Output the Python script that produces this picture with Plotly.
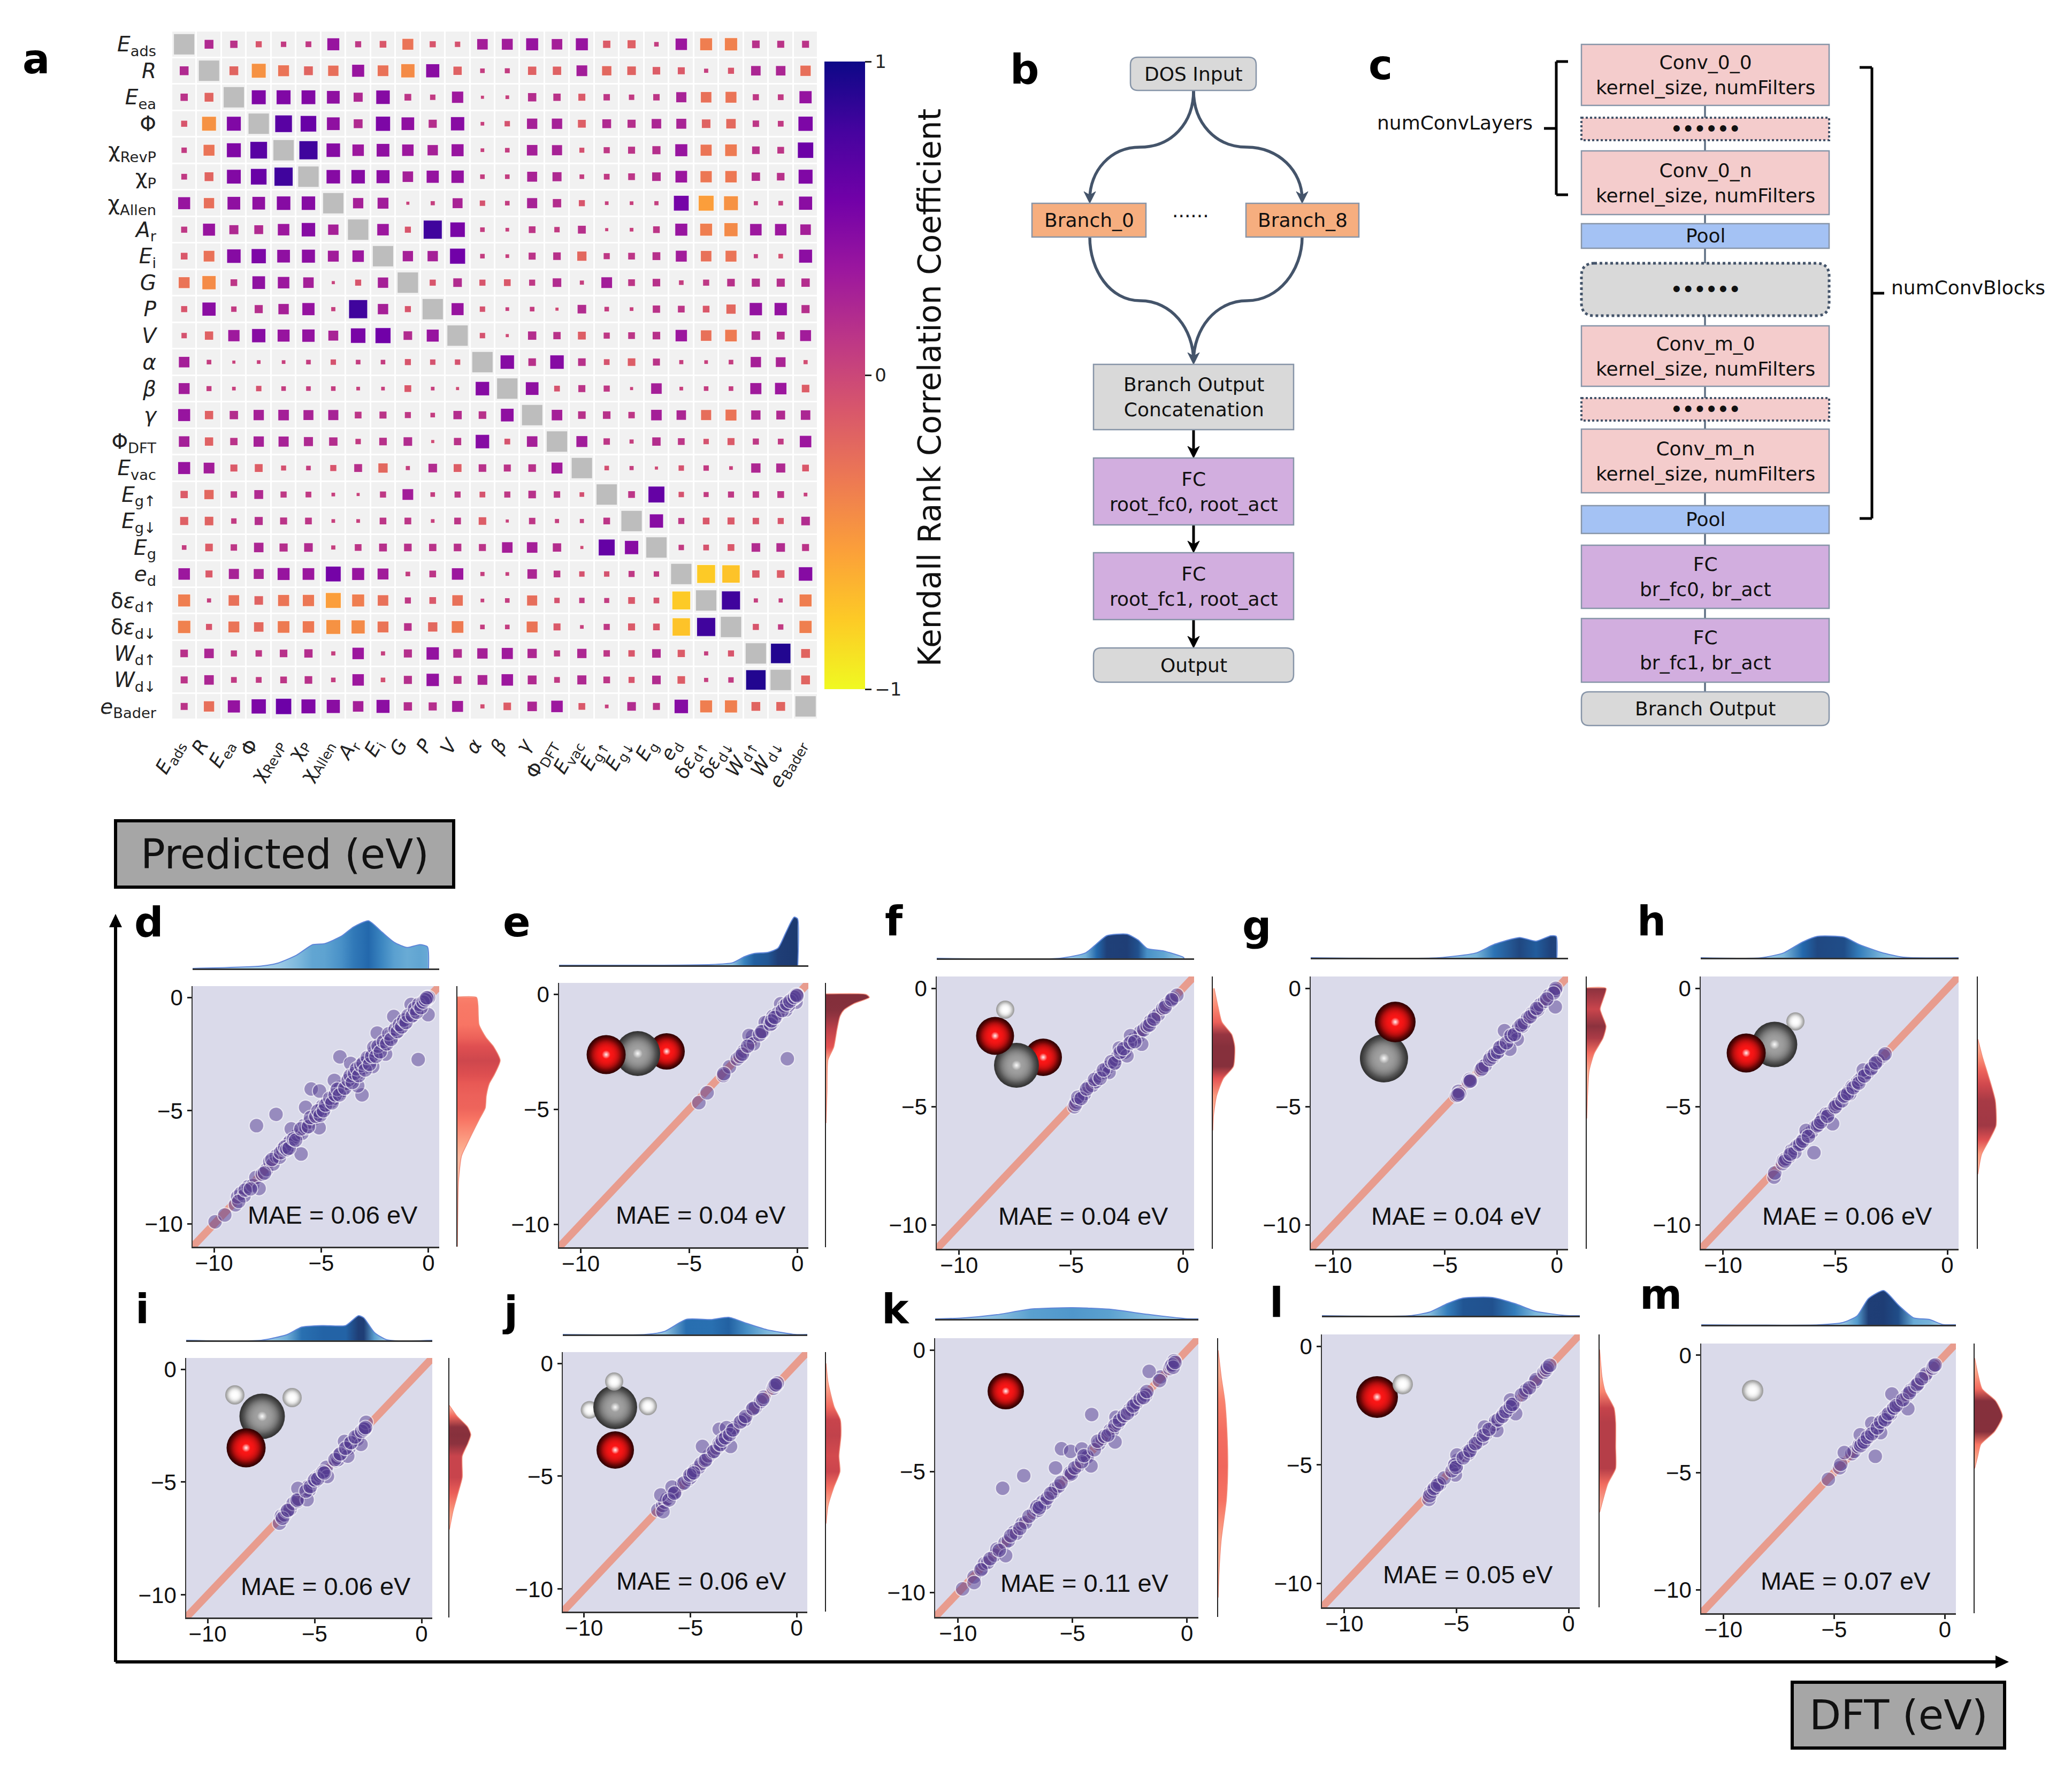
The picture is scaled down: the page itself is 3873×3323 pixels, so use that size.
import plotly.graph_objects as go

# ---------------- DATA ----------------
LABELS = ["<i>E</i><sub>ads</sub>", "<i>R</i>", "<i>E</i><sub>ea</sub>", "Φ", "χ<sub>RevP</sub>", "χ<sub>P</sub>",
          "χ<sub>Allen</sub>", "<i>A</i><sub>r</sub>", "<i>E</i><sub>i</sub>", "<i>G</i>", "<i>P</i>", "<i>V</i>",
          "<i>α</i>", "<i>β</i>", "<i>γ</i>", "Φ<sub>DFT</sub>", "<i>E</i><sub>vac</sub>", "<i>E</i><sub>g↑</sub>",
          "<i>E</i><sub>g↓</sub>", "<i>E</i><sub>g</sub>", "<i>e</i><sub>d</sub>", "δ<i>ε</i><sub>d↑</sub>",
          "δ<i>ε</i><sub>d↓</sub>", "<i>W</i><sub>d↑</sub>", "<i>W</i><sub>d↓</sub>", "<i>e</i><sub>Bader</sub>"]

# upper triangle of the Kendall matrix, row by row (without the diagonal)
K00 = [.2,.14,-.1,.08,.09,.36,.1,-.12,-.3,-.1,-.08,.28,.3,.36,.28,.36,-.14,-.17,.06,.33,-.36,-.38,.15,.13,.13]
K01 = [-.2,-.48,-.3,-.2,-.27,.36,-.29,-.44,.43,-.18,.06,.07,-.18,-.18,.29,-.22,-.19,-.15,-.13,.05,-.1,.23,.23,-.27]
K02 = [.48,.48,.47,.4,.21,.45,.12,.08,.32,.03,.04,.18,.14,-.13,.11,.08,.11,.26,-.28,-.3,.1,.09,.37]
K03 = [.68,.6,.4,.2,.5,.4,.17,.44,.04,-.08,.27,.27,-.16,.2,.17,.23,.25,-.19,-.23,.11,.09,.5]
K04 = [.8,.45,.33,.4,.33,.27,.36,.04,.06,.28,.26,-.07,.1,.13,.17,.36,-.31,-.34,.15,.12,.58]
K05 = [.45,.45,.42,.28,.37,.38,.06,.06,.25,.21,.06,.09,.12,.19,.34,-.32,-.33,.18,.15,.48]
K06 = [.27,.3,.03,.05,.25,-.08,.06,.26,.18,-.1,.04,.04,.05,.54,-.55,-.48,.05,.06,.43]
K07 = [.33,-.1,.8,.52,.06,.04,.12,.08,.16,.03,.04,.12,.36,-.36,-.43,.33,.33,.28]
K08 = [.27,.27,.56,.06,.04,.13,.15,-.22,.1,.12,.16,.3,-.28,-.3,.05,-.06,.42]
K09 = [-.1,.19,-.1,-.12,.1,.19,.05,.29,.12,.15,.06,.1,.15,.17,.17,.18]
K10 = [.36,-.08,.04,.06,-.03,.19,.06,.04,.14,.12,-.12,-.22,.38,.38,.17]
K11 = [-.08,-.03,.18,.14,-.16,.1,.12,.15,.33,-.28,-.34,.19,.16,.3]
K12 = [.45,.15,.45,.15,-.09,-.15,.13,.05,.04,.06,.27,.24,-.05]
K13 = [.4,-.09,.13,.1,.03,.28,.04,.06,.06,.31,.33,-.15]
K14 = [.28,.15,.15,.11,.28,.23,-.26,-.3,.22,.2,.23]
K15 = [.3,.11,.05,.18,.12,-.08,-.13,.1,.09,.33]
K16 = [-.06,.05,-.03,-.08,.08,.04,.22,.21,-.12]
K17 = [.12,.62,-.08,.07,.1,.11,.12,.04]
K18 = [.44,.1,-.12,-.13,-.11,-.1,.19]
K19 = [.08,-.09,-.12,.19,.19,.13]
K20 = [-.78,-.74,-.14,-.15,.45]
K21 = [.8,.05,.05,-.36]
K22 = [-.1,.08,-.37]
K23 = [.92,-.2]
K24 = [-.2]
UPPER = [K00,K01,K02,K03,K04,K05,K06,K07,K08,K09,K10,K11,K12,K13,K14,K15,K16,K17,K18,K19,K20,K21,K22,K23,K24]
CBAR_TICKS = [1, 0, -1]
CBAR_TEXT = ["1", "0", "−1"]

DIAG = [-11, 0.5]
TICKS = [-10, -5, 0]

d_points = [(-9.95,-9.9),(-9.5,-9.6),(-9.0,-9.15),(-8.9,-8.8),(-8.75,-8.65),(-8.6,-8.75),(-8.4,-8.35),(-8.2,-8.3),(-8.05,-7.95),
 (-7.75,-7.8),(-7.55,-7.6),(-7.4,-7.25),(-7.25,-7.35),(-7.1,-7.0),(-6.95,-7.05),(-6.8,-6.7),(-6.65,-6.75),(-6.55,-6.45),(-6.45,-6.35),
 (-6.35,-6.5),(-6.25,-6.15),(-6.1,-6.05),(-5.9,-6.0),(-5.8,-5.65),(-5.7,-5.75),(-5.55,-5.5),(-5.3,-5.35),(-5.2,-5.05),(-5.1,-5.15),
 (-5.0,-4.95),(-4.95,-4.8),(-4.85,-4.9),(-4.7,-4.55),(-4.55,-4.6),(-4.4,-4.45),(-4.3,-4.15),(-4.2,-4.25),(-4.1,-3.95),(-4.0,-4.1),
 (-3.85,-3.8),(-3.7,-3.55),(-3.6,-3.65),(-3.5,-3.45),(-3.4,-3.25),(-3.3,-3.35),(-3.2,-3.15),(-3.1,-2.95),(-3.0,-3.1),(-2.9,-2.85),
 (-2.8,-2.7),(-2.7,-2.8),(-2.6,-2.5),(-2.5,-2.35),(-2.4,-2.45),(-2.3,-2.25),(-2.2,-2.05),(-2.05,-2.1),(-1.9,-1.85),(-1.8,-1.7),
 (-1.7,-1.75),(-1.6,-1.5),(-1.5,-1.55),(-1.4,-1.3),(-1.3,-1.35),(-1.2,-1.1),(-1.1,-1.15),(-1.0,-.95),(-.9,-.85),(-.8,-.85),(-.7,-.65),
 (-.6,-.55),(-.5,-.55),(-.4,-.35),(-.3,-.25),(-.2,-.25),(-.1,-.1),(-.05,0),(-.03,-.05),(0,0),
 (-8.02,-5.66),(-7.11,-5.16),(-5.73,-4.85),(-5.47,-4.04),(-4.13,-2.62),(-.48,-2.74),(-5.94,-6.91),(-.02,-.76),(-3.1,-4.3),(-1.62,-.84),
 (-5.08,-4.13),(-3.63,-2.91),(-4.39,-3.66),(-2.39,-1.57),(-.81,-.31),(-6.4,-5.8),(-5.1,-5.75),(-7.9,-8.43),(-3.3,-3.9),(-2.6,-3.05),(-2.0,-2.5),
 (-8.85,-9.0),(-8.55,-8.5),(-8.3,-8.45),(-7.65,-7.75),(-7.3,-7.15),(-6.9,-6.85),(-6.7,-6.6),(-6.6,-6.7),(-6.5,-6.65),(-6.3,-6.25),(-6.2,-6.3),(-5.95,-5.8),
 (-5.6,-5.7),(-5.5,-5.3),(-5.25,-5.25),(-5.15,-5.0),(-5.05,-5.2),(-4.9,-5.0),(-4.8,-4.75),(-4.6,-4.45),(-4.5,-4.65),(-4.35,-4.3),(-4.25,-4.05),(-4.15,-4.3),
 (-3.9,-4.0),(-3.75,-3.65),(-3.65,-3.45),(-3.55,-3.75),(-3.45,-3.35),(-3.35,-3.15),(-3.25,-3.45),(-3.15,-3.0),(-3.05,-2.9),(-2.95,-3.2),(-2.85,-2.65),
 (-2.75,-2.95),(-2.65,-2.6),(-2.55,-2.2),(-2.45,-2.6),(-2.35,-2.15),(-2.25,-2.4),(-2.1,-1.95),(-1.95,-2.05),(-1.85,-1.6),(-1.75,-1.85),(-1.55,-1.4),
 (-1.45,-1.5),(-1.35,-1.2),(-1.25,-1.3),(-1.15,-1.0),(-1.05,-1.1),(-.95,-.8),(-.75,-.8),(-.65,-.5),(-.55,-.65),(-.45,-.3),(-.35,-.45),(-.25,-.2),(-.15,-.1),(-.08,-.02)]
d_top_x = [-11,-7.8,-7,-6.15,-5.4,-4.85,-4.05,-3.5,-2.8,-2.2,-1.6,-1,-.4,-.05,0.0]
d_top = [0,.01,.023,.056,.1,.104,.136,.174,.2,.155,.11,.088,.1,.091,0]
d_right_y = [0.02,0,-.34,-1.2,-1.76,-2.17,-2.78,-3.4,-3.8,-4.34,-4.88,-5.4,-6.5,-7,-8.1,-10,-11]
d_right = [0,.089,.096,.101,.133,.169,.2,.173,.149,.135,.13,.101,.043,.019,.005,.001,0]

e_points = [(-4.55,-4.71),(-4.17,-4.28),(-3.42,-3.53),(-3.14,-3.15),(-2.78,-2.81),(-2.48,-2.47),(-2.19,-2.11),(-2.08,-1.83),(-1.67,-1.7),
 (-1.37,-1.2),(-1.18,-1.26),(-1.01,-.99),(-.78,-.41),(-.54,-.68),(-.31,-.38),(-.02,-.03),(-.07,-.34),(-.47,-2.8),(-1.49,-1.22),(-2.24,-1.79),
 (-2.03,-2.15),(-.42,-.48),(-.19,-.2),(-1.13,-.95),(-.9,-.82),(-.6,-.5),(-.1,-.12),(-1.6,-1.62),(-2.65,-2.7),(-.25,-.22),
 (-3.4,-3.45),(-2.55,-2.6),(-2.3,-2.25),(-1.75,-1.75),(-1.65,-1.62),(-1.25,-1.3),(-1.2,-1.15),(-1.05,-1.0),(-.7,-.7),(-.5,-.42),(-.35,-.3),(-.15,-.13),(-.05,-.02),(-.03,-.06)]
e_top_x = [-11,-4,-3,-2.45,-2,-1.37,-.9,-.55,-.3,-.15,0.0,0.01]
e_top = [0,.012,.046,.16,.22,.24,.32,.6,.81,.9,.87,0]
e_right_y = [0.02,0,-.13,-.4,-.68,-.95,-1.5,-2.3,-2.85,-4.2,-5.6]
e_right = [0,.83,.9,.58,.37,.29,.23,.16,.04,.02,0]

f_points = [(-4.85,-5.0),(-4.75,-4.8),(-4.65,-4.7),(-4.5,-4.55),(-4.4,-4.45),(-4.2,-4.15),(-4.05,-4.1),(-3.9,-3.95),(-3.75,-3.7),(-3.6,-3.6),
 (-3.5,-3.55),(-3.4,-3.35),(-3.3,-3.3),(-3.1,-3.2),(-3.0,-3.0),(-2.9,-2.85),(-2.75,-2.75),(-2.6,-2.7),(-2.5,-2.45),(-2.45,-2.4),(-2.2,-2.15),
 (-2.0,-2.05),(-1.9,-1.85),(-1.75,-1.75),(-1.6,-1.6),(-1.45,-1.4),(-1.25,-1.2),(-1.1,-1.1),(-.9,-.85),(-.75,-.7),(-.55,-.55),(-.45,-.42),(-.27,-.29),
 (-2.34,-2.0),(-1.84,-2.36),(-2.84,-2.52),(-2.5,-2.85),(-3.3,-3.55),
 (-4.8,-4.9),(-4.7,-4.6),(-4.55,-4.65),(-4.3,-4.25),(-3.95,-3.85),(-3.7,-3.8),(-3.55,-3.45),(-3.2,-3.1),(-3.05,-3.15),(-2.8,-2.7),(-2.65,-2.55),(-2.35,-2.3),(-2.15,-2.25),(-1.5,-1.55),(-1.3,-1.3),(-.8,-.8),(-.5,-.48)]
f_top_x = [-11,-5.5,-4.35,-3.85,-3.4,-2.5,-2,-1.6,-.85,0,.06]
f_top = [0,0,.074,.2,.31,.33,.25,.135,.1,.017,0]
f_right_y = [0,-.8,-1.43,-1.95,-2.46,-3.3,-3.8,-4.53,-5.36,-6]
f_right = [.02,.08,.137,.285,.33,.31,.16,.057,.01,0]

g_points = [(-4.48,-4.53),(-4.4,-4.35),(-4.35,-4.45),(-3.95,-3.95),(-3.9,-3.85),(-3.85,-3.9),(-3.4,-3.45),(-3.3,-3.3),(-3.2,-3.25),(-2.95,-2.9),
 (-2.85,-2.9),(-2.75,-2.75),(-2.6,-2.65),(-2.5,-2.45),(-2.4,-2.4),(-2.15,-2.2),(-2.1,-2.05),(-2.0,-2.0),(-1.8,-1.8),(-1.7,-1.65),(-1.55,-1.6),
 (-1.45,-1.45),(-1.3,-1.25),(-1.1,-1.05),(-1.0,-1.0),(-.85,-.9),(-.75,-.7),(-.55,-.55),(-.35,-.3),(-.1,-.12),(-.07,-.08),(-.05,0),
 (-.07,-.78),(-2.34,-1.79),(-1.77,-2.15),(-2.1,-2.57),(-.15,-.2),
 (-4.42,-4.5),(-3.88,-3.92),(-3.35,-3.4),(-3.0,-3.0),(-2.8,-2.8),(-2.65,-2.7),(-2.55,-2.5),(-2.25,-2.3),(-2.05,-2.0),(-1.9,-1.95),(-1.6,-1.55),(-1.2,-1.2),(-.9,-.85),(-.45,-.45)]
g_top_x = [-11,-5.3,-3.6,-2.8,-1.67,-.93,-.27,-.03,0.0]
g_top = [0,0,.067,.183,.277,.227,.3,.293,0]
g_right_y = [0.02,0,-.47,-.88,-1.6,-2.1,-2.75,-3.5,-4.5,-5.5]
g_right = [0,.3,.254,.208,.3,.254,.115,.035,.012,0]

h_points = [(-7.73,-7.97),(-7.7,-7.8),(-7.35,-7.4),(-7.3,-7.25),(-7.2,-7.2),(-7.05,-7.1),(-6.95,-6.85),(-6.8,-6.75),(-6.7,-6.65),(-6.55,-6.55),
 (-6.4,-6.35),(-6.3,-6.2),(-6.15,-6.1),(-6.05,-6.05),(-5.9,-5.85),(-5.75,-5.75),(-5.6,-5.55),(-5.55,-5.45),(-5.4,-5.3),(-5.3,-5.3),(-5.05,-5.05),
 (-4.95,-4.9),(-4.85,-4.85),(-4.65,-4.6),(-4.55,-4.5),(-4.4,-4.35),(-4.35,-4.45),(-4.25,-4.15),(-4.1,-4.1),(-4.0,-3.95),(-3.9,-3.85),(-3.8,-3.75),
 (-3.65,-3.6),(-3.55,-3.55),(-3.35,-3.35),(-3.25,-3.2),(-3.1,-3.05),(-2.85,-2.85),(-2.78,-2.77),
 (-5.95,-6.94),(-5.12,-5.72),(-6.8,-6.92),(-6.3,-6.0),(-3.75,-3.45),
 (-7.25,-7.3),(-7.0,-7.0),(-6.6,-6.6),(-6.45,-6.45),(-6.2,-6.25),(-5.8,-5.8),(-5.65,-5.65),(-5.35,-5.4),(-5.0,-5.0),(-4.7,-4.75),(-4.6,-4.55),(-4.45,-4.45),(-4.2,-4.2),(-3.95,-4.0),(-3.7,-3.7),(-3.4,-3.4),(-3.2,-3.15)]
h_top_x = [-11,-8.3,-7.3,-6.45,-5.8,-4.6,-3.95,-2.95,-1.95,.5]
h_top = [0,0,.062,.2,.27,.26,.17,.068,.006,0]
h_right_y = [-2.15,-2.9,-3.5,-4.1,-4.75,-5.8,-6.4,-7,-7.85]
h_right = [0,.068,.135,.2,.26,.27,.17,.056,0]

i_points = [(-6.64,-6.82),(-6.55,-6.5),(-6.4,-6.45),(-6.3,-6.3),(-6.15,-6.2),(-6.0,-5.95),(-5.8,-5.85),(-5.75,-5.75),(-5.35,-5.3),(-5.3,-5.2),(-5.25,-5.35),
 (-5.05,-5.0),(-4.95,-4.95),(-4.9,-4.8),(-4.75,-4.7),(-4.65,-4.65),(-4.5,-4.5),(-4.45,-4.35),(-4.0,-4.05),(-3.95,-3.9),(-3.9,-4.0),(-3.85,-3.8),
 (-3.5,-3.55),(-3.45,-3.4),(-3.4,-3.5),(-3.35,-3.3),(-3.05,-3.05),(-3.0,-3.1),(-2.95,-2.9),(-2.7,-2.7),(-2.65,-2.6),(-2.64,-2.63),
 (-5.78,-5.28),(-5.35,-5.78),(-2.83,-3.33),(-2.59,-2.35),(-3.45,-3.85),(-3.6,-3.2),(-4.4,-4.75),
 (-6.5,-6.6),(-6.25,-6.25),(-5.82,-5.8),(-5.4,-5.4),(-5.2,-5.2),(-5.0,-4.9),(-4.85,-4.85),(-4.6,-4.55),(-4.55,-4.6),(-4.05,-4.0),(-3.8,-3.75),(-3.55,-3.5),(-3.3,-3.25),(-3.1,-3.0),(-2.8,-2.75),(-2.68,-2.65),(-2.62,-2.58)]
i_top_x = [-11,-7.5,-6.3,-5.6,-4.6,-3.55,-2.95,-2.7,-2.2,-1.6,.5]
i_top = [0,0,.08,.188,.21,.21,.35,.32,.11,.005,0]
i_right_y = [-1.6,-2.08,-2.56,-2.9,-3.3,-3.85,-4.8,-5.5,-6.3,-7.1]
i_right = [0,.125,.3,.35,.3,.21,.21,.14,.058,0]

j_points = [(-6.53,-6.5),(-6.3,-6.3),(-6.2,-6.15),(-6.1,-6.0),(-5.9,-5.85),(-5.85,-5.8),(-5.7,-5.7),(-5.4,-5.35),(-5.1,-5.15),(-5.05,-5.0),(-5.0,-5.05),
 (-4.95,-4.9),(-4.8,-4.75),(-4.6,-4.6),(-4.5,-4.45),(-4.25,-4.25),(-4.15,-4.1),(-3.95,-3.95),(-3.75,-3.75),(-3.65,-3.55),(-3.55,-3.6),(-3.4,-3.35),
 (-3.3,-3.2),(-3.2,-3.1),(-3.05,-3.0),(-2.95,-2.85),(-2.6,-2.55),(-2.5,-2.45),(-2.45,-2.5),(-2.1,-2.05),(-1.95,-1.95),(-1.7,-1.7),(-1.55,-1.5),
 (-1.1,-1.1),(-1.05,-1.0),(-.95,-.95),(-.91,-.87),
 (-6.39,-5.83),(-4.43,-3.68),(-3.64,-2.92),(-3.11,-3.68),(-6.29,-6.57),(-5.86,-5.48),(-3.3,-2.85),
 (-6.0,-6.05),(-5.75,-5.75),(-5.3,-5.3),(-5.02,-4.95),(-4.85,-4.85),(-4.3,-4.3),(-3.9,-3.9),(-3.6,-3.6),(-3.5,-3.4),(-3.35,-3.3),(-3.15,-3.15),(-3.0,-2.95),(-2.65,-2.6),(-2.4,-2.35),(-2.05,-2.0),(-1.6,-1.6),(-1.0,-.95)]
j_top_x = [-11,-7.1,-6.2,-5.2,-4,-3.2,-2.35,-1.4,-.07,.5]
j_top = [0,0,.04,.19,.188,.216,.14,.06,0,0]
j_right_y = [0,-.85,-1.93,-2.5,-3.2,-4.1,-4.8,-5.5,-6.3,-7.1]
j_right = [0,.03,.12,.21,.22,.19,.205,.114,.03,0]

k_points = [(-9.8,-9.84),(-9.3,-9.35),(-9.3,-9.58),(-8.95,-9.0),(-8.85,-8.8),(-8.7,-8.75),(-8.4,-8.45),(-8.3,-8.2),(-7.95,-7.95),(-7.8,-7.85),(-7.55,-7.5),
 (-7.45,-7.55),(-7.2,-7.15),(-7.05,-7.1),(-6.7,-6.7),(-6.6,-6.55),(-6.5,-6.6),(-6.4,-6.35),(-6.3,-6.25),(-6.2,-6.3),(-5.85,-5.85),(-5.75,-5.7),(-5.6,-5.6),
 (-5.15,-5.15),(-5.1,-5.05),(-5.05,-5.1),(-4.75,-4.75),(-4.45,-4.45),(-4.4,-4.35),(-4.35,-4.4),(-3.85,-3.85),(-3.7,-3.65),(-3.35,-3.3),(-3.25,-3.3),
 (-3.0,-3.0),(-2.9,-2.85),(-2.5,-2.45),(-2.4,-2.45),(-2.3,-2.25),(-2.2,-2.15),(-1.85,-1.8),(-1.8,-1.85),(-1.15,-1.1),(-.75,-.75),(-.7,-.65),(-.56,-.43),
 (-8.05,-5.69),(-7.13,-5.17),(-5.74,-4.85),(-5.48,-4.06),(-5.08,-4.17),(-4.59,-4.07),(-4.16,-2.65),(-1.65,-.87),(-3.14,-3.78),(-4.19,-4.77),(-3.1,-2.76),(-7.92,-8.47),
 (-9.0,-9.05),(-8.6,-8.6),(-8.2,-8.25),(-7.7,-7.65),(-7.3,-7.35),(-6.9,-6.85),(-6.55,-6.45),(-6.45,-6.5),(-6.1,-6.1),(-5.95,-5.9),(-5.5,-5.45),(-4.9,-4.85),(-4.6,-4.6),(-4.5,-4.35),
 (-4.05,-4.1),(-3.9,-3.75),(-3.6,-3.55),(-3.45,-3.5),(-3.15,-3.1),(-2.95,-2.9),(-2.75,-2.7),(-2.6,-2.6),(-2.35,-2.3),(-2.05,-2.0),(-1.9,-1.95),(-1.75,-1.7),(-1.2,-1.25),(-.65,-.6),(-.6,-.7),(-.52,-.5)]
k_top_x = [-11,-9.8,-8.3,-6.8,-5,-3.4,-1.7,-.07,.5]
k_top = [0,.01,.047,.11,.125,.108,.05,.003,0]
k_right_y = [0,-1.1,-2.1,-3.4,-4.8,-6.2,-7.8,-9.2,-10.2]
k_right = [0,.04,.087,.115,.125,.106,.04,.01,0]

l_points = [(-6.23,-6.45),(-6.15,-6.15),(-6.05,-6.1),(-5.95,-5.95),(-5.8,-5.75),(-5.75,-5.8),(-5.1,-5.1),(-5.05,-4.95),(-5.0,-5.05),(-4.95,-4.8),(-4.6,-4.6),
 (-4.5,-4.45),(-4.45,-4.5),(-4.25,-4.2),(-4.05,-4.05),(-3.95,-3.85),(-3.85,-3.9),(-3.7,-3.7),(-3.4,-3.4),(-3.3,-3.3),(-3.25,-3.15),(-3.0,-3.0),(-2.9,-2.85),
 (-2.75,-2.7),(-2.65,-2.65),(-2.55,-2.5),(-2.45,-2.4),(-1.95,-1.95),(-1.9,-1.85),(-1.5,-1.5),(-1.45,-1.4),(-1.1,-1.1),(-1.0,-1.0),(-.95,-.9),(-.84,-.8),
 (-2.36,-2.84),(-2.59,-2.26),(-4.98,-4.58),(-5.05,-5.42),(-3.75,-3.4),(-3.2,-3.55),
 (-6.2,-6.3),(-6.0,-6.0),(-5.85,-5.85),(-5.55,-5.55),(-5.2,-5.25),(-5.08,-5.0),(-5.02,-5.1),(-4.7,-4.7),(-4.4,-4.4),(-4.15,-4.1),(-3.8,-3.75),(-3.55,-3.5),(-3.15,-3.1),(-2.95,-2.95),(-2.8,-2.75),(-2.6,-2.55),(-2.5,-2.45),(-2.1,-2.05),(-1.75,-1.75)]
l_top_x = [-11,-7.1,-6.2,-5.4,-4.7,-3.4,-2.4,-1.5,-.17,.5]
l_top = [0,0,.05,.167,.242,.25,.167,.063,.004,0]
l_right_y = [-.13,-1.3,-1.9,-2.6,-3.2,-4.25,-5.15,-5.8,-7]
l_right = [0,.036,.083,.214,.238,.238,.238,.12,0]

m_points = [(-5.26,-5.29),(-4.75,-4.8),(-4.7,-4.65),(-4.2,-4.2),(-4.1,-4.1),(-3.9,-3.9),(-3.85,-3.8),(-3.75,-3.75),(-3.6,-3.55),(-3.55,-3.6),(-3.45,-3.4),
 (-3.4,-3.45),(-3.35,-3.3),(-3.25,-3.25),(-3.2,-3.15),(-3.15,-3.2),(-3.1,-3.05),(-3.0,-2.95),(-2.95,-3.0),(-2.85,-2.8),(-2.8,-2.85),(-2.75,-2.7),(-2.65,-2.6),
 (-2.6,-2.65),(-2.5,-2.45),(-2.45,-2.5),(-2.35,-2.3),(-2.1,-2.1),(-2.0,-1.95),(-1.7,-1.7),(-1.55,-1.5),(-1.35,-1.35),(-1.2,-1.2),(-.9,-.9),(-.85,-.8),
 (-.55,-.55),(-.5,-.45),(-.44,-.41),
 (-3.14,-4.31),(-2.39,-1.65),(-1.67,-2.28),(-4.54,-4.15),(-3.82,-3.39),(-3.3,-2.9),(-2.9,-3.3),
 (-3.8,-3.85),(-3.65,-3.7),(-3.5,-3.5),(-3.3,-3.35),(-3.05,-3.1),(-2.9,-2.85),(-2.7,-2.75),(-2.55,-2.5),(-2.3,-2.25),(-2.2,-2.15),(-1.9,-1.9),(-1.6,-1.6),(-1.25,-1.25),(-1.05,-1.0)]
m_top_x = [-11,-5.7,-4.6,-3.95,-3.45,-2.76,-2.1,-1.4,-.7,-.1,.5]
m_top = [0,0,.03,.12,.345,.45,.26,.09,.07,.004,0]
m_right_y = [-.12,-.77,-1.43,-1.95,-2.6,-3.26,-3.8,-4.3,-4.83]
m_right = [0,.05,.12,.34,.45,.32,.1,.05,0]

MAE = {"d":"0.06","e":"0.04","f":"0.04","g":"0.04","h":"0.06","i":"0.06","j":"0.06","k":"0.11","l":"0.05","m":"0.07"}

# ---------------- PAGE GEOMETRY ----------------
W, H = 3873, 3323
SANS = "DejaVu Sans"
HELV = "Liberation Sans"
PANELS = {  # main rect x0,x1,y0,y1 ; baseline y of the top curve ; x of the right curve axis ; peaks in px ; MAE text centre
 "d": (360,821,1843,2330, 1810,855, 89,80, 622,2270),
 "e": (1045,1511,1837,2331, 1804,1544, 90,81, 1310,2270),
 "f": (1751,2232,1825,2334, 1791,2267, 45,41, 2025,2272),
 "g": (2450,2931,1825,2334, 1790,2966, 41,36, 2722,2272),
 "h": (3179,3661,1825,2334, 1790,3697, 40,34, 3453,2272),
 "i": (348,808,2538,3023, 2505,840, 46,40, 609,2964),
 "j": (1052,1509,2527,3012, 2494,1544, 32,28, 1311,2954),
 "k": (1748,2240,2501,3022, 2465,2277, 21,18, 2027,2958),
 "l": (2471,2953,2494,3004, 2459,2990, 34,30, 2744,2942),
 "m": (3180,3656,2511,3015, 2476,3691, 64,52, 3450,2954),
}
SERIES = {
 "d": (d_points,d_top_x,d_top,d_right_y,d_right), "e": (e_points,e_top_x,e_top,e_right_y,e_right),
 "f": (f_points,f_top_x,f_top,f_right_y,f_right), "g": (g_points,g_top_x,g_top,g_right_y,g_right),
 "h": (h_points,h_top_x,h_top,h_right_y,h_right), "i": (i_points,i_top_x,i_top,i_right_y,i_right),
 "j": (j_points,j_top_x,j_top,j_right_y,j_right), "k": (k_points,k_top_x,k_top,k_right_y,k_right),
 "l": (l_points,l_top_x,l_top,l_right_y,l_right), "m": (m_points,m_top_x,m_top,m_right_y,m_right),
}
LETTERS = {"a":(67,110),"b":(1915,130),"c":(2580,122),"d":(278,1723),"e":(966,1723),"f":(1671,1721),"g":(2349,1730),"h":(3087,1721),
           "i":(266,2446),"j":(953,2450),"k":(1674,2446),"l":(2386,2434),"m":(3104,2419)}

BLUES = [(0,(176,214,234)),(.06,(125,184,220)),(.11,(90,160,208)),(.16,(56,130,190)),(.2,(35,104,172)),(.27,(32,72,130)),(.32,(31,62,118)),(1,(28,58,112))]
REDS  = [(0,(255,196,172)),(.05,(252,160,130)),(.1,(248,118,100)),(.16,(228,82,82)),(.21,(200,68,76)),(.27,(160,56,68)),(.31,(134,48,60)),(1,(130,46,58))]

def ramp(table, v):
    for (a, ca), (b, cb) in zip(table, table[1:]):
        if v <= b:
            t = (v - a) / (b - a)
            return "rgb(%d,%d,%d)" % tuple(round(p + (q - p) * t) for p, q in zip(ca, cb))
    return "rgb(%d,%d,%d)" % table[-1][1]

def dom_x(a, b): return [a / W, b / W]
def dom_y(a, b): return [1 - b / H, 1 - a / H]

fig = go.Figure()
layout_axes = {}
ax_n = [1]
def new_axes(xd, yd, xopts, yopts):
    n = ax_n[0]; ax_n[0] += 1
    sx = "" if n == 1 else str(n)
    layout_axes["xaxis" + sx] = dict(domain=xd, anchor="y" + sx, **xopts)
    layout_axes["yaxis" + sx] = dict(domain=yd, anchor="x" + sx, **yopts)
    return "x" + sx, "y" + sx

# ---------------- PANEL a ----------------
N = len(LABELS)
idx = list(range(N))
xa, ya = new_axes(dom_x(321,1529), dom_y(58,1345),
    dict(range=[-.5,N-.5], tickvals=[i-.33 for i in idx], ticktext=LABELS, tickangle=-60, ticklen=0, showgrid=False, zeroline=False, showline=False,
         tickfont=dict(family=SANS, size=36, color="#222"), ticklabelstandoff=18),
    dict(range=[N-.5,-.5], tickvals=idx, ticktext=LABELS, ticklen=0, showgrid=False, zeroline=False, showline=False,
         tickfont=dict(family=SANS, size=39, color="#222"), ticklabelstandoff=28))
fig.add_trace(go.Heatmap(x=idx, y=idx, z=[[0]*N for _ in idx], colorscale=[[0,"#f1f1f1"],[1,"#f1f1f1"]], showscale=False,
                         xgap=3, ygap=3, hoverinfo="skip", xaxis=xa, yaxis=ya))
sx, sy, sv = [], [], []
for r, row in enumerate(UPPER):
    for o, v in enumerate(row):
        c = r + 1 + o
        sx += [c, r]; sy += [r, c]; sv += [v, v]
fig.add_trace(go.Scatter(x=sx, y=sy, mode="markers", xaxis=xa, yaxis=ya, showlegend=False,
    marker=dict(symbol="square", opacity=1, size=[39*abs(v)**.5 for v in sv], color=sv, cmin=-1, cmax=1, colorscale="Plasma_r",
                line=dict(color="rgba(255,255,255,.8)", width=1),
                colorbar=dict(x=1541/W, xanchor="left", y=1-115/H, yanchor="top", xpad=0, ypad=0, len=1173, lenmode="pixels", thickness=76, thicknessmode="pixels",
                              outlinewidth=0, tickvals=CBAR_TICKS, ticktext=CBAR_TEXT, ticks="outside", ticklen=12, tickwidth=2.5, tickcolor="#222",
                              tickfont=dict(family=SANS, size=34, color="#222")))))
fig.add_trace(go.Scatter(x=idx, y=idx, mode="markers", xaxis=xa, yaxis=ya, showlegend=False,
    marker=dict(symbol="square", opacity=1, size=39, color="#bdbdbd", line=dict(color="rgba(255,255,255,.6)", width=1))))

# ---------------- PANELS d-m ----------------
annots, shapes = [], []
def T(x, y, text, size=36, family=SANS, color="#111", **kw):
    annots.append(dict(x=x/W, y=1-y/H, xref="paper", yref="paper", text=text, showarrow=False,
                       font=dict(family=family, size=size, color=color), xanchor="center", yanchor="middle", **kw))

for key, (x0,x1,y0,y1,base,rx,ptop,pright,mx,my) in PANELS.items():
    pts, tx, ty, ry, rv = SERIES[key]
    shapes.append(dict(type="rect", xref="paper", yref="paper", x0=x0/W, x1=x1/W, y0=1-y0/H, y1=1-y1/H, fillcolor="#dadaea", line_width=0, layer="below"))
    ax_font = dict(family=HELV, size=42, color="#111")
    mx_ax, my_ax = new_axes(dom_x(x0,x1), dom_y(y0,y1),
        dict(range=[-11,.5], tickvals=TICKS, ticks="outside", ticklen=8, tickwidth=3, tickcolor="#222", showline=True, linecolor="#333", linewidth=3,
             showgrid=False, zeroline=False, tickfont=ax_font, ticklabelstandoff=-16),
        dict(range=[-11,.5], tickvals=TICKS, ticks="outside", ticklen=8, tickwidth=3, tickcolor="#222", showline=True, linecolor="#333", linewidth=1.5,
             showgrid=False, zeroline=False, tickfont=ax_font))
    fig.add_trace(go.Scatter(x=DIAG, y=DIAG, mode="lines", line=dict(color="#e89c8e", width=14), xaxis=mx_ax, yaxis=my_ax, showlegend=False, hoverinfo="skip"))
    fig.add_trace(go.Scatter(x=[p[0] for p in pts], y=[p[1] for p in pts], mode="markers", xaxis=mx_ax, yaxis=my_ax, showlegend=False,
        marker=dict(size=27, color="rgba(84,60,145,.5)", line=dict(color="rgba(255,255,255,.65)", width=2))))
    # top density
    peak = max(ty)
    t_ax, ty_ax = new_axes(dom_x(x0,x1), dom_y(base-110, base),
        dict(range=[-11,.5], visible=True, showticklabels=False, ticks="", showline=True, linecolor="#333", linewidth=3, showgrid=False, zeroline=False),
        dict(range=[0, peak*110/ptop], visible=False))
    span = max(tx) - min(tx)
    fig.add_trace(go.Scatter(x=tx, y=ty, mode="lines", line=dict(color="#5f86d8", width=2, shape="spline", smoothing=.6), fill="tozeroy", xaxis=t_ax, yaxis=ty_ax, showlegend=False, hoverinfo="skip",
        fillgradient=dict(type="horizontal", start=min(tx), stop=max(tx),
                          colorscale=[[(x-min(tx))/span, ramp(BLUES, v)] for x, v in zip(tx, ty)])))
    # right density
    peak = max(rv)
    r_ax, ry_ax = new_axes(dom_x(rx, rx+110), dom_y(y0,y1),
        dict(range=[0, peak*110/pright], visible=False),
        dict(range=[-11,.5], visible=True, showticklabels=False, ticks="", showline=True, linecolor="#222", linewidth=1.5, showgrid=False, zeroline=False))
    span = max(ry) - min(ry)
    stops = sorted(((y-min(ry))/span, ramp(REDS, v)) for y, v in zip(ry, rv))
    fig.add_trace(go.Scatter(x=rv, y=ry, mode="lines", line=dict(color="#f28a78", width=1.5, shape="spline", smoothing=.6), fill="tozerox", xaxis=r_ax, yaxis=ry_ax, showlegend=False, hoverinfo="skip",
        fillgradient=dict(type="vertical", start=min(ry), stop=max(ry), colorscale=[list(s) for s in stops])))
    T(mx, my, "MAE = %s eV" % MAE[key], size=47, family=HELV, color="#111")

# ---------------- overlay in page pixels: molecules ----------------
px_x, px_y = new_axes([0,1],[0,1], dict(range=[0,W], visible=False), dict(range=[H,0], visible=False))
RED = ("#300000", "#ff1616"); GRAY = ("#333333", "#a2a2a2"); WHITE = ("#9a9a9a", "#ffffff")
ATOMS = [  # kind, x, y, diameter, in drawing order
 (RED,1246,1965,68),(GRAY,1192,1969,84),(RED,1133,1971,73),
 (WHITE,1879,1887,34),(RED,1950,1976,70),(GRAY,1900,1991,84),(RED,1860,1936,71),
 (GRAY,2587,1978,90),(RED,2608,1910,76),
 (WHITE,3356,1909,34),(GRAY,3317,1952,85),(RED,3264,1968,73),
 (WHITE,439,2607,36),(WHITE,546,2612,36),(GRAY,490,2647,85),(RED,460,2706,73),
 (WHITE,1102,2635,33),(GRAY,1150,2630,82),(WHITE,1148,2582,34),(WHITE,1211,2628,34),(RED,1150,2710,70),
 (RED,1880,2600,68),
 (RED,2574,2611,78),(WHITE,2622,2587,38),
 (WHITE,3276,2599,40),
]
def clear(c):
    h = c.lstrip("#"); return "rgba(%d,%d,%d,0)" % (int(h[:2],16), int(h[2:4],16), int(h[4:],16))
def ball(x, y, size, edge, core):
    fig.add_trace(go.Scatter(x=[x], y=[y], mode="markers", xaxis=px_x, yaxis=px_y, showlegend=False, hoverinfo="skip",
        marker=dict(size=size, color=edge, line_width=0, gradient=dict(type="radial", color=core))))
for (edge, core), x, y, d in ATOMS:
    ball(x, y, d, edge, core)
    ball(x, y, d*.92, clear(core), core)
    ball(x, y, d*.78, clear(core), core)
    ball(x, y, d*.22, "rgba(255,255,255,0)", "rgba(255,255,255,.95)")

# ---------------- flow charts ----------------
def sx_(v): return v/W
def sy_(v): return 1-v/H
BORDER = "#8795a8"; DARK = "#44546a"
def box(x0,y0,x1,y1,fill,text=None,round_=False,border=BORDER,dash=None,lw=2.5,size=36,r=14):
    line = dict(color=border, width=lw)
    if dash: line["dash"] = dash
    if round_:
        p = (f"M {sx_(x0+r)} {sy_(y0)} L {sx_(x1-r)} {sy_(y0)} Q {sx_(x1)} {sy_(y0)} {sx_(x1)} {sy_(y0+r)} L {sx_(x1)} {sy_(y1-r)} "
             f"Q {sx_(x1)} {sy_(y1)} {sx_(x1-r)} {sy_(y1)} L {sx_(x0+r)} {sy_(y1)} Q {sx_(x0)} {sy_(y1)} {sx_(x0)} {sy_(y1-r)} "
             f"L {sx_(x0)} {sy_(y0+r)} Q {sx_(x0)} {sy_(y0)} {sx_(x0+r)} {sy_(y0)} Z")
        shapes.append(dict(type="path", path=p, xref="paper", yref="paper", fillcolor=fill, line=line, layer="above"))
    else:
        shapes.append(dict(type="rect", x0=sx_(x0), x1=sx_(x1), y0=sy_(y0), y1=sy_(y1), xref="paper", yref="paper", fillcolor=fill, line=line, layer="above"))
    if text: T((x0+x1)/2, (y0+y1)/2, text, size=size)

def curve(pts, color=DARK, width=5.5):
    (a,b), rest = pts[0], pts[1:]
    p = f"M {sx_(a)} {sy_(b)} "
    for i in range(0, len(rest), 3):
        p += "C " + ", ".join(f"{sx_(x)} {sy_(y)}" for x, y in rest[i:i+3]) + " "
    shapes.append(dict(type="path", path=p, xref="paper", yref="paper", line=dict(color=color, width=width), layer="above"))

def head(x, y, color=DARK, s=11):
    p = f"M {sx_(x)} {sy_(y)} L {sx_(x-s)} {sy_(y-s*2)} L {sx_(x)} {sy_(y-s*1.4)} L {sx_(x+s)} {sy_(y-s*2)} Z"
    shapes.append(dict(type="path", path=p, xref="paper", yref="paper", fillcolor=color, line=dict(color=color, width=1), layer="above"))

def seg(x0,y0,x1,y1,color="#000",width=5):
    shapes.append(dict(type="line", x0=sx_(x0), x1=sx_(x1), y0=sy_(y0), y1=sy_(y1), xref="paper", yref="paper", line=dict(color=color, width=width), layer="above"))

PINK, BLUE, PURPLE, GREY, ORANGE = "#f4cccc", "#a4c2f4", "#d2aedf", "#d9d9d9", "#f6ae7f"
cx = 2231
curve([(cx,169),(cx,230),(2190,275),(2131,275),(2075,275),(2037,320),(2037,372)])
curve([(cx,169),(cx,230),(2272,275),(2331,275),(2390,275),(2434,320),(2434,372)])
curve([(2037,443),(2037,505),(2075,562),(2131,562),(2190,562),(cx,615),(cx,675)])
curve([(2434,443),(2434,505),(2390,562),(2331,562),(2272,562),(cx,615),(cx,675)])
head(2037,380); head(2434,380); head(cx,681)
for a, b in [(803,850),(981,1027),(1158,1205)]:
    seg(cx,a,cx,b,"#000",5); head(cx,b+6,"#000")
box(2113,107,2348,169,GREY,"DOS Input",round_=True)
box(1929,380,2142,443,ORANGE,"Branch_0")
box(2329,380,2540,443,ORANGE,"Branch_8")
T(2225,394,"......",size=36)
box(2044,681,2418,803,GREY,"Branch Output<br>Concatenation")
box(2044,856,2418,981,PURPLE,"FC<br>root_fc0, root_act")
box(2044,1033,2418,1158,PURPLE,"FC<br>root_fc1, root_act")
box(2044,1211,2418,1275,GREY,"Output",round_=True)

bx0, bx1 = 2956, 3419
seg(3187,197,3187,1293,"#5f7084",3.5)
KS = "kernel_size, numFilters"
box(bx0,83,bx1,197,PINK,"Conv_0_0<br>"+KS)
box(bx0,220,bx1,262,PINK,"<b>••••••</b>",border=DARK,dash="dot",lw=4,size=34)
box(bx0,282,bx1,401,PINK,"Conv_0_n<br>"+KS)
box(bx0,418,bx1,464,BLUE,"Pool")
box(bx0,492,bx1,590,GREY,"<b>••••••</b>",round_=True,border=DARK,dash="dot",lw=5,size=34,r=24)
box(bx0,609,bx1,722,PINK,"Conv_m_0<br>"+KS)
box(bx0,744,bx1,786,PINK,"<b>••••••</b>",border=DARK,dash="dot",lw=4,size=34)
box(bx0,802,bx1,921,PINK,"Conv_m_n<br>"+KS)
box(bx0,945,bx1,997,BLUE,"Pool")
box(bx0,1019,bx1,1137,PURPLE,"FC<br>br_fc0, br_act")
box(bx0,1156,bx1,1275,PURPLE,"FC<br>br_fc1, br_act")
box(bx0,1293,bx1,1356,GREY,"Branch Output",round_=True)
# braces
seg(2909,115,2909,364); seg(2909,115,2931,115); seg(2909,364,2931,364); seg(2886,240,2909,240)
seg(3499,126,3499,969); seg(3476,126,3499,126); seg(3476,969,3499,969); seg(3499,548,3522,548)
T(2719,229,"numConvLayers",size=36)
T(3679,537,"numConvBlocks",size=36)

# arrows and label boxes
seg(216,1730,216,3106,"#000",6)
seg(216,3106,3730,3106,"#000",6)
shapes.append(dict(type="path", xref="paper", yref="paper", fillcolor="#000", line_width=0, layer="above",
    path=f"M {sx_(216)} {sy_(1708)} L {sx_(204)} {sy_(1733)} L {sx_(228)} {sy_(1733)} Z"))
shapes.append(dict(type="path", xref="paper", yref="paper", fillcolor="#000", line_width=0, layer="above",
    path=f"M {sx_(3755)} {sy_(3106)} L {sx_(3730)} {sy_(3094)} L {sx_(3730)} {sy_(3118)} Z"))
box(216,1534,848,1658,"#a6a6a6","Predicted (eV)",border="#000",lw=6,size=76)
box(3350,3144,3747,3267,"#a6a6a6","DFT (eV)",border="#000",lw=6,size=77)

for ch,(x,y) in LETTERS.items():
    T(x, y, "<b>%s</b>" % ch, size=76, color="#000")
T(1738, 725, "Kendall Rank Correlation Coefficient", size=58, color="#111", textangle=-90)

fig.update_layout(width=W, height=H, margin=dict(l=0,r=0,t=0,b=0,autoexpand=False), paper_bgcolor="white", plot_bgcolor="rgba(0,0,0,0)",
                  showlegend=False, annotations=annots, shapes=shapes, **layout_axes)
fig.write_html("out.html", post_script="document.body.style.margin='0';", config={"displayModeBar": False})
